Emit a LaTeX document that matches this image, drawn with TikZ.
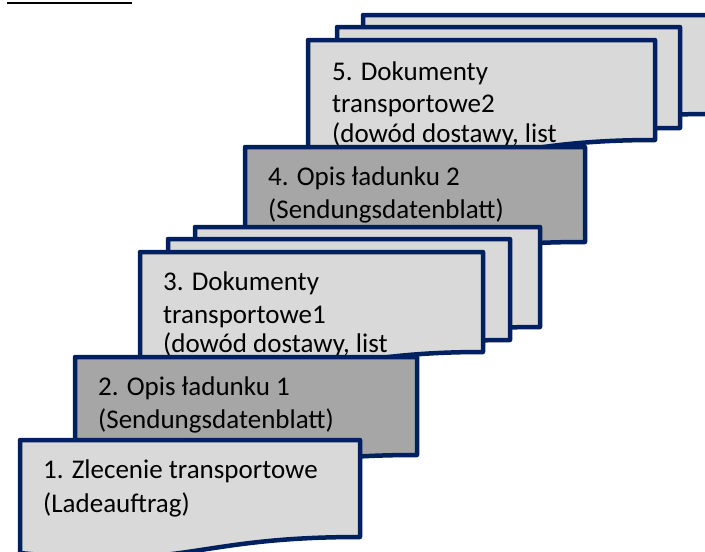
\documentclass[tikz,border=0pt]{standalone}
\usepackage{fontspec}
\setmainfont{Carlito}
\definecolor{edgeblue}{RGB}{0,32,96}
\definecolor{sheetlight}{RGB}{217,217,217}
\definecolor{sheetdark}{RGB}{166,166,166}
% One sheet with a wavy bottom edge:
% #1 fill, #2 left, #3 top, #4 right, #5 bottom at the right side, #6 dip of the left end
\newcommand\docsheet[6]{%
  \draw[sheetline,fill=#1] (#2,#3) -- (#4,#3) -- (#4,#5)
    .. controls ({(#2+#4)/2},#5) and ({(#2+#4)/2},{#5+2.1*#6}) .. (#2,{#5+#6}) -- cycle;}
\begin{document}
\begin{tikzpicture}[x=1pt,y=-1pt,
  sheetline/.style={draw=edgeblue,line width=4.5pt,line join=round},
  label/.style={anchor=base west,inner sep=0pt,font=\fontsize{27}{32}\selectfont,text=black}]
\useasboundingbox (0,0) rectangle (705,552);
\clip (0,0) rectangle (705,552);
\fill[white] (0,0) rectangle (705,552);

% heading underline at the top edge
\draw[black,line width=1.5pt] (7,3) -- (132,3);

% 5: stack of three documents
\docsheet{sheetlight}{363}{15}{711}{114}{19}
\docsheet{sheetlight}{337}{27}{680}{128}{19}
\docsheet{sheetlight}{308}{40}{655}{140}{19}
\node[label] (t5a) at (332,80) {5. Dokumenty};
\node[label] (t5b) at (332,112) {transportowe2};
\node[label] (t5c) at (332,142) {(dowód dostawy, list};

% 4: single document
\docsheet{sheetdark}{245}{147}{585}{242}{16}
\node[label] (t4a) at (268,185) {4. Opis ładunku 2};
\node[label] (t4b) at (268,218) {(Sendungsdatenblatt)};

% 3: stack of three documents
\docsheet{sheetlight}{195}{227}{540}{327}{19}
\docsheet{sheetlight}{168}{239}{510}{340}{19}
\docsheet{sheetlight}{140}{252}{483}{352}{19}
\node[label] (t3a) at (163,290) {3. Dokumenty};
\node[label] (t3b) at (163,323) {transportowe1};
\node[label] (t3c) at (163,352) {(dowód dostawy, list};

% 2: single document
\docsheet{sheetdark}{75}{357}{417}{455}{16}
\node[label] (t2a) at (98,395) {2. Opis ładunku 1};
\node[label] (t2b) at (98,428) {(Sendungsdatenblatt)};

% 1: single document
\docsheet{sheetlight}{20}{440}{360}{537}{16}
\node[label] (t1a) at (43,478) {1. Zlecenie transportowe};
\node[label] (t1b) at (43,512) {(Ladeauftrag)};
\end{tikzpicture}
\end{document}
